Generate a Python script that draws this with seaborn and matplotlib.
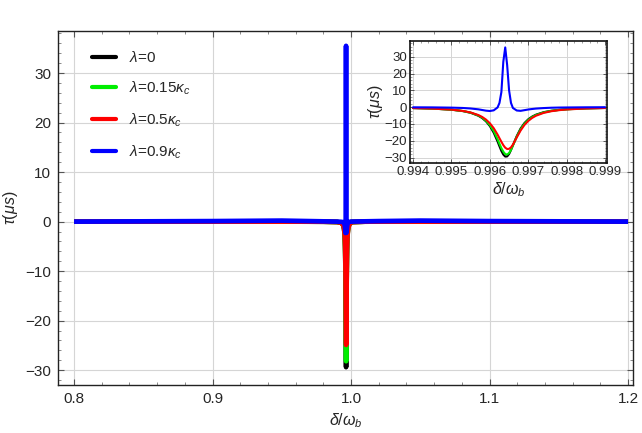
import numpy as np
import pandas as pd
import matplotlib
matplotlib.use("Agg")
import matplotlib.pyplot as plt
from matplotlib.ticker import MultipleLocator
from matplotlib.lines import Line2D
import seaborn as sns

# ---------------- data ----------------
x_vals = [0.80, 0.85, 0.90, 0.95, 0.97, 0.98, 0.99, 0.993,
          0.9940, 0.9945, 0.9950, 0.9953, 0.9955, 0.9957, 0.9958, 0.9959,
          0.9960, 0.9961, 0.9962, 0.99625, 0.9963, 0.99635, 0.9964, 0.99645,
          0.9965, 0.99655, 0.9966, 0.9967, 0.9968, 0.9969, 0.9970, 0.9971,
          0.9972, 0.9974, 0.9976, 0.9978, 0.9980, 0.9985, 0.9990,
          1.00, 1.01, 1.02, 1.05, 1.10, 1.15, 1.20]

tau_l0 = [0.0, 0.0, 0.0, 0.0, -0.01, -0.02, -0.08, -0.25,
          -0.54, -0.85, -1.51, -2.36, -3.36, -5.12, -6.51, -8.47,
          -11.26, -15.2, -20.4, -23.3, -26.1, -28.2, -29.4, -29.3,
          -27.9, -25.5, -22.7, -17.2, -12.7, -9.47, -7.21, -5.62,
          -4.48, -3.0, -2.14, -1.6, -1.23, -0.72, -0.47,
          -0.1, -0.01, 0.0, 0.0, 0.0, 0.0, 0.0]

tau_l015 = [0.0, 0.0, 0.0, 0.0, -0.01, -0.02, -0.08, -0.25,
            -0.55, -0.85, -1.5, -2.33, -3.3, -4.95, -6.3, -8.1,
            -10.7, -14.2, -19.0, -21.8, -24.4, -26.5, -27.9, -28.2,
            -27.3, -25.4, -22.8, -17.6, -13.2, -9.9, -7.6, -5.9,
            -4.7, -3.15, -2.25, -1.68, -1.3, -0.75, -0.49,
            -0.1, -0.01, 0.0, 0.0, 0.0, 0.0, 0.0]

tau_l05 = [0.0, 0.0, 0.0, 0.0, -0.01, -0.02, -0.08, -0.26,
           -0.55, -0.85, -1.49, -2.27, -3.18, -4.69, -5.84, -7.42,
           -9.58, -12.5, -16.3, -18.5, -20.6, -22.6, -24.1, -24.9,
           -24.8, -23.9, -22.3, -18.0, -13.9, -10.6, -8.2, -6.41,
           -5.11, -3.42, -2.42, -1.8, -1.38, -0.8, -0.52,
           -0.1, -0.01, 0.0, 0.0, 0.0, 0.0, 0.0]

tau_l09 = [0.0, 0.05, 0.1, 0.2, 0.1, 0.05, 0.0, -0.05,
           -0.1, -0.15, -0.3, -0.5, -0.8, -1.3, -1.7, -2.1,
           -2.3, -1.9, -0.2, 2.5, 9.0, 27.0, 35.5, 25.0,
           10.0, 2.5, -0.5, -2.0, -2.2, -1.8, -1.4, -1.1,
           -0.85, -0.55, -0.35, -0.25, -0.2, -0.1, -0.05,
           0.0, 0.05, 0.1, 0.2, 0.1, 0.05, 0.0]

labels = [r"$\lambda$=0", r"$\lambda$=0.15$\kappa_c$",
          r"$\lambda$=0.5$\kappa_c$", r"$\lambda$=0.9$\kappa_c$"]
colors = ["#000000", "#00ee00", "#ff0000", "#0000ff"]

xticks_main = [0.8, 0.9, 1.0, 1.1, 1.2]
xticklabels_main = ["0.8", "0.9", "1.0", "1.1", "1.2"]
xticks_inset = [0.994, 0.995, 0.996, 0.997, 0.998, 0.999]
yticks = [-30, -20, -10, 0, 10, 20, 30]
yticklabels = ["\u221230", "\u221220", "\u221210", "0", "10", "20", "30"]

# ---------------- build table ----------------
series = [tau_l0, tau_l015, tau_l05, tau_l09]
df = pd.concat([pd.DataFrame({"x": x_vals, "tau": s, "case": lab})
                for s, lab in zip(series, labels)], ignore_index=True)
df_in = df[(df["x"] >= 0.994) & (df["x"] <= 0.999)]

# ---------------- style ----------------
sns.set_theme(style="white")
plt.rcParams["font.family"] = ["Liberation Sans", "DejaVu Sans"]
plt.rcParams["mathtext.fontset"] = "custom"
plt.rcParams["mathtext.rm"] = "Liberation Sans"
plt.rcParams["mathtext.it"] = "Liberation Sans:italic"
plt.rcParams["mathtext.bf"] = "Liberation Sans:bold"

fig = plt.figure(figsize=(6.42, 4.33), dpi=100)
ax = fig.add_axes([0.0903, 0.1109, 0.8957, 0.8175])

palette = dict(zip(labels, colors))
sns.lineplot(data=df, x="x", y="tau", hue="case", hue_order=labels,
             palette=palette, linewidth=3.4, ax=ax, legend=False,
             estimator=None, solid_capstyle="butt")

ax.set_xlim(0.7884, 1.2036)
ax.set_ylim(-33.0, 38.5)
ax.set_xticks(xticks_main)
ax.set_xticklabels(xticklabels_main)
ax.set_yticks(yticks)
ax.set_yticklabels(yticklabels)
ax.xaxis.set_minor_locator(MultipleLocator(0.02))
ax.yaxis.set_minor_locator(MultipleLocator(2))
ax.tick_params(which="major", direction="in", length=4, width=0.8,
               labelsize=11, bottom=True, left=True, top=True, right=True,
               color="#555555", pad=5)
ax.tick_params(which="minor", direction="in", length=2, width=0.6,
               bottom=True, left=True, top=True, right=True, color="#777777")
ax.grid(True, which="major", color="#d5d5d5", linewidth=0.8)
for sp in ax.spines.values():
    sp.set_color("#222222")
    sp.set_linewidth(1.0)
ax.set_xlabel(r"$\delta/\omega_b$", fontsize=11.5, labelpad=4)
ax.set_ylabel(r"$\tau(\mu s)$", fontsize=11.5, labelpad=4)

handles = [Line2D([0], [0], color=c, lw=3) for c in colors]
leg = ax.legend(handles, labels, loc="upper left", frameon=False,
                fontsize=11, handlelength=1.6, handletextpad=0.8,
                labelspacing=0.95, bbox_to_anchor=(0.035, 0.985))

# ---------------- inset ----------------
axi = fig.add_axes([0.6386, 0.6236, 0.3069, 0.2824])
sns.lineplot(data=df_in, x="x", y="tau", hue="case", hue_order=labels,
             palette=palette, linewidth=1.5, ax=axi, legend=False,
             estimator=None)
axi.set_xlim(0.99392, 0.99905)
axi.set_ylim(-33.2, 39.5)
axi.set_xticks(xticks_inset)
axi.set_xticklabels([f"{v:.3f}" for v in xticks_inset])
axi.set_yticks(yticks)
axi.set_yticklabels(yticklabels)
axi.xaxis.set_minor_locator(MultipleLocator(0.0002))
axi.yaxis.set_minor_locator(MultipleLocator(2))
axi.tick_params(which="major", direction="in", length=3, width=0.7,
                labelsize=9.5, bottom=True, left=True, top=True, right=True,
                color="#555555", pad=2)
axi.tick_params(which="minor", direction="in", length=1.5, width=0.5,
                bottom=True, left=True, top=True, right=True, color="#777777")
axi.grid(True, which="major", color="#d5d5d5", linewidth=0.7)
for sp in axi.spines.values():
    sp.set_color("#111111")
    sp.set_linewidth(1.2)
axi.set_xlabel(r"$\delta/\omega_b$", fontsize=11.5, labelpad=2)
axi.set_ylabel(r"$\tau(\mu s)$", fontsize=11.5, labelpad=0)
axi.set_facecolor("white")

fig.savefig("out.png", dpi=100, facecolor="white")
